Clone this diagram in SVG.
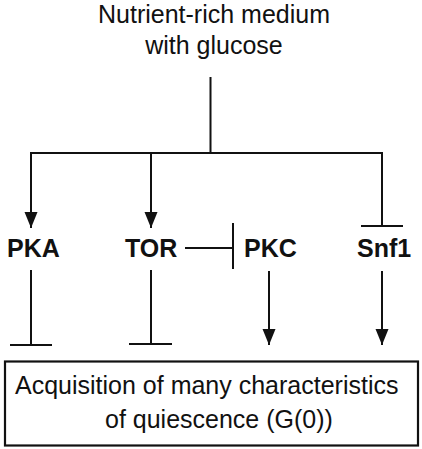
<svg xmlns="http://www.w3.org/2000/svg" width="422" height="449" viewBox="0 0 422 449">
<style>
.lbl{font-family:"Liberation Sans",Arial,sans-serif;font-size:25px;fill:#111}
.kin{font-family:"Liberation Sans",Arial,sans-serif;font-size:25px;font-weight:bold;fill:#111}
.ln{stroke:#111;stroke-width:2;fill:none}
.box{stroke:#111;stroke-width:2.2;fill:#fff}
</style>
<defs>
<marker id="arr" markerUnits="userSpaceOnUse" viewBox="0 0 16 14" markerWidth="16" markerHeight="14" refX="16" refY="7" orient="auto">
<path d="M0,0.5 L16,7 L0,13.5 Z" fill="#111"/>
</marker>
</defs>
<g id="medium">
<text class="lbl" x="214" y="22.5" text-anchor="middle">Nutrient-rich medium</text>
<text class="lbl" x="214" y="53.5" text-anchor="middle">with glucose</text>
</g>
<g id="PKA"><text class="kin" x="7" y="257">PKA</text></g>
<g id="TOR"><text class="kin" x="125" y="257">TOR</text></g>
<g id="PKC"><text class="kin" x="244" y="257">PKC</text></g>
<g id="Snf1"><text class="kin" x="357" y="257">Snf1</text></g>
<g id="quiescence">
<rect class="box" x="5" y="361.5" width="413" height="84"/>
<text class="lbl" x="15" y="394">Acquisition of many characteristics</text>
<text class="lbl" x="105" y="428">of quiescence (G(0))</text>
</g>
<g id="connectors">
<path class="ln" d="M210.5,77 V153 M30,153 H383"/>
<path class="ln" d="M31,152 V228" marker-end="url(#arr)"/>
<path class="ln" d="M151,153 V228" marker-end="url(#arr)"/>
<path class="ln" d="M382,152 V226 M361,226 H403"/>
<path class="ln" d="M185,248 H233 M233,223 V269"/>
<path class="ln" d="M31,270 V345 M10,345 H52"/>
<path class="ln" d="M151,270 V344 M129,344 H172"/>
<path class="ln" d="M269,271 V345" marker-end="url(#arr)"/>
<path class="ln" d="M382,271 V345" marker-end="url(#arr)"/>
</g>
</svg>
